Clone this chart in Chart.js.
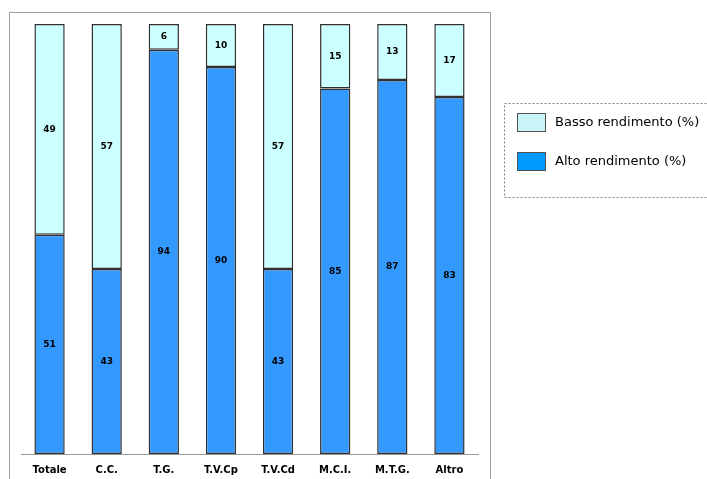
<!DOCTYPE html>
<html>
<head>
<meta charset="utf-8">
<script src="https://cdn.jsdelivr.net/npm/chart.js@4/dist/chart.umd.min.js"></script>
<style>
  html, body { margin: 0; padding: 0; background: #fff; }
  #wrap { width: 707px; height: 479px; position: relative; }
</style>
</head>
<body>
<div id="wrap"><canvas id="canvas" width="707" height="479"></canvas></div>
<script>
var categories = ["Totale", "C.C.", "T.G.", "T.V.Cp", "T.V.Cd", "M.C.I.", "M.T.G.", "Altro"];
var alto = [51, 43, 94, 90, 43, 85, 87, 83];
var basso = [49, 57, 6, 10, 57, 15, 13, 17];

// outer frame, drawn behind the bars
var framePlugin = {
  id: "frame",
  beforeDraw: function (chart) {
    var ctx = chart.ctx;
    ctx.save();
    ctx.strokeStyle = "#a0a0a0";
    ctx.lineWidth = 1;
    ctx.strokeRect(9.5, 12.5, 481, 480);
    ctx.restore();
  }
};

// value written in the middle of each segment
var labelPlugin = {
  id: "segLabels",
  afterDatasetsDraw: function (chart) {
    var ctx = chart.ctx;
    ctx.save();
    ctx.font = "bold 9px 'DejaVu Sans'";
    ctx.fillStyle = "#000";
    ctx.textAlign = "center";
    ctx.textBaseline = "middle";
    chart.data.datasets.forEach(function (ds, i) {
      chart.getDatasetMeta(i).data.forEach(function (bar, j) {
        var mid = (bar.y + bar.base) / 2;
        ctx.fillText(ds.data[j], bar.x, mid);
      });
    });
    ctx.restore();
  }
};

// dashed legend box on the right, top entry is the upper segment
var legendPlugin = {
  id: "boxLegend",
  afterDraw: function (chart) {
    var ctx = chart.ctx;
    ctx.save();
    ctx.strokeStyle = "#808080";
    ctx.lineWidth = 1;
    ctx.setLineDash([2, 2]);
    ctx.strokeRect(504.5, 103.5, 210, 94);
    ctx.setLineDash([]);
    var items = chart.data.datasets.slice().reverse();
    items.forEach(function (ds, k) {
      var y = 113 + k * 39;
      ctx.fillStyle = ds.legendColor;
      ctx.fillRect(517, y, 29, 19);
      ctx.strokeStyle = "#505050";
      ctx.strokeRect(517.5, y + 0.5, 28, 18);
      ctx.fillStyle = "#000";
      ctx.font = "13px 'DejaVu Sans'";
      ctx.textBaseline = "middle";
      ctx.textAlign = "left";
      ctx.fillText(ds.label, 555, y + 10);
    });
    ctx.restore();
  }
};

var ctx = document.getElementById("canvas").getContext("2d");
var myChart = new Chart(ctx, {
  type: "bar",
  data: {
    labels: categories,
    datasets: [
      {
        label: "Alto rendimento (%)",
        data: alto,
        backgroundColor: "#3399ff",
        legendColor: "#0099ff",
        borderColor: "#303030",
        borderWidth: 1.5,
        borderSkipped: false,
        barPercentage: 0.53,
        categoryPercentage: 1
      },
      {
        label: "Basso rendimento (%)",
        data: basso,
        backgroundColor: "#ccffff",
        legendColor: "#c8f4f8",
        borderColor: "#303030",
        borderWidth: 1.5,
        borderSkipped: false,
        barPercentage: 0.53,
        categoryPercentage: 1
      }
    ]
  },
  options: {
    responsive: false,
    animation: false,
    events: [],
    layout: { padding: { left: 21, top: 24, right: 229, bottom: 0 } },
    plugins: { legend: { display: false }, tooltip: { enabled: false } },
    scales: {
      x: {
        stacked: true,
        grid: { display: false, drawTicks: false },
        border: { color: "#999999", width: 1 },
        ticks: {
          color: "#000",
          padding: 10,
          font: { family: "DejaVu Sans", size: 10, weight: "bold" }
        },
        afterFit: function (s) { s.height = 25; }
      },
      y: {
        stacked: true,
        display: false,
        min: 0,
        max: 100
      }
    }
  },
  plugins: [framePlugin, labelPlugin, legendPlugin]
});
</script>
</body>
</html>
